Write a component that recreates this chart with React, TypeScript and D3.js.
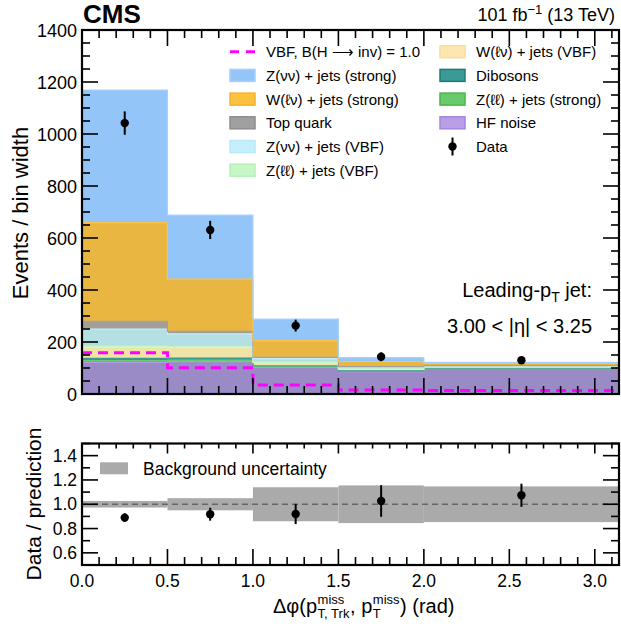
import * as d3 from "d3";

// bin edges (rad) and data (events / bin width)
const edges = [0, 0.5, 1.0, 1.5, 2.0, Math.PI];
const hfNoise = [122, 124, 103, 86, 99];
const zllStrong = [6, 6, 2, 1, 0.5];
const dibosons = [9, 8, 3, 2, 1];
const wlvVBF = [43, 40, 13, 6, 3];
const zllVBF = [3, 3, 1, 1, 0.5];
const zvvVBF = [67, 50, 14, 7, 4];
const topQuark = [29, 10, 5, 2, 1];
const wlvStrong = [380, 201, 64, 19, 9];
const zvvStrong = [510, 246, 83, 16, 4];
const signal = [159, 101, 35, 15, 13];
const dataY = [1042, 631, 263, 143, 130];
const dataErr = [45, 35, 23, 17, 11];
const ratio = [0.89, 0.918, 0.92, 1.027, 1.074];
const ratioErr = [0.036, 0.053, 0.083, 0.13, 0.095];
const bandErr = [0.027, 0.05, 0.14, 0.155, 0.147];

const layers = [
  { key: "hf", label: "HF noise", vals: hfNoise, fill: "#9a8bc7", edge: "#b39cea", sw: "#b99ee8", swEdge: "#a485e0" },
  { key: "zllS", label: "Z(ℓℓ) + jets (strong)", vals: zllStrong, fill: "#5ab85a", edge: "#6cc96c", sw: "#6ac96a", swEdge: "#45b845" },
  { key: "vv", label: "Dibosons", vals: dibosons, fill: "#339890", edge: "#3a9a96", sw: "#3a9a96", swEdge: "#217a75" },
  { key: "wlvV", label: "W(ℓν) + jets (VBF)", vals: wlvVBF, fill: "#efe4a6", edge: "#fde6b0", sw: "#fde6b0", swEdge: "#f8dea0" },
  { key: "zllV", label: "Z(ℓℓ) + jets (VBF)", vals: zllVBF, fill: "#c0ecc0", edge: "#c6f7c6", sw: "#c6f7c6", swEdge: "#b6f0b6" },
  { key: "zvvV", label: "Z(νν) + jets (VBF)", vals: zvvVBF, fill: "#b4e0e4", edge: "#c6effc", sw: "#c6effc", swEdge: "#b9e8f8" },
  { key: "top", label: "Top quark", vals: topQuark, fill: "#a39f98", edge: "#a0a0a0", sw: "#a0a0a0", swEdge: "#8c8c8c" },
  { key: "wlvS", label: "W(ℓν) + jets (strong)", vals: wlvStrong, fill: "#e9b741", edge: "#fcc24a", sw: "#fbc13f", swEdge: "#f5b230" },
  { key: "zvvS", label: "Z(νν) + jets (strong)", vals: zvvStrong, fill: "#94c5f9", edge: "#a6d1ff", sw: "#94c5f9", swEdge: "#a4cfff" },
];

const FONT = "'Liberation Sans', Arial, Helvetica, sans-serif";

let ctx: CanvasRenderingContext2D | null = null;
function tw(s: string, size: number, weight = "normal") {
  if (!ctx) ctx = document.createElement("canvas").getContext("2d");
  if (!ctx) return s.length * size * 0.55;
  ctx.font = `${weight} ${size}px ${FONT}`;
  return ctx.measureText(s).width;
}

const W = 621;
const H = 628;
const left = 82;
const right = 619;
const x = d3.scaleLinear().domain([0, Math.PI]).range([left, right]);
const y = d3.scaleLinear().domain([0, 1400]).range([394, 30]);
const yr = d3.scaleLinear().domain([0.5, 1.5]).range([565, 443.5]);

function stepPts(vals: number[]) {
  const pts: [number, number][] = vals.map((v, i) => [edges[i], v]);
  pts.push([edges[edges.length - 1], vals[vals.length - 1]]);
  return pts;
}

function Ticks({ top, bottom, yScale, yMajor, yMinor, xTopLen }: any) {
  const xMajor = d3.range(0, 3.01, 0.5);
  const xMinor = d3.range(0, 3.15, 0.1).filter((t) => Math.abs(t * 2 - Math.round(t * 2)) > 1e-6);
  const els: any[] = [];
  xMajor.forEach((t, i) => {
    const px = x(t);
    els.push(<line key={"xb" + i} x1={px} x2={px} y1={bottom} y2={bottom - 16} />);
    els.push(<line key={"xt" + i} x1={px} x2={px} y1={top} y2={top + xTopLen[0]} />);
  });
  xMinor.forEach((t, i) => {
    const px = x(t);
    els.push(<line key={"xbm" + i} x1={px} x2={px} y1={bottom} y2={bottom - 8} />);
    els.push(<line key={"xtm" + i} x1={px} x2={px} y1={top} y2={top + xTopLen[1]} />);
  });
  yMajor.forEach((t: number, i: number) => {
    const py = yScale(t);
    els.push(<line key={"yl" + i} x1={left} x2={left + 16} y1={py} y2={py} />);
    els.push(<line key={"yr" + i} x1={right} x2={right - 16} y1={py} y2={py} />);
  });
  yMinor.forEach((t: number, i: number) => {
    const py = yScale(t);
    els.push(<line key={"ylm" + i} x1={left} x2={left + 8} y1={py} y2={py} />);
    els.push(<line key={"yrm" + i} x1={right} x2={right - 8} y1={py} y2={py} />);
  });
  return <g stroke="#000" strokeWidth={1.6}>{els}</g>;
}

export default function App() {
  const stack = d3
    .stack<number>()
    .keys(layers.map((l) => l.key))
    .value((i, key) => layers.find((l) => l.key === key)!.vals[Math.min(i, 4)]);
  const series = stack(d3.range(6));

  const area = d3
    .area<[number, number]>()
    .x((d, i) => x(edges[i]))
    .y0((d) => y(d[0]))
    .y1((d) => y(d[1]))
    .curve(d3.curveStepAfter);
  const topLine = d3
    .line<[number, number]>()
    .x((d, i) => x(edges[i]))
    .y((d) => y(d[1]))
    .curve(d3.curveStepAfter);

  const sigLine = d3
    .line<[number, number]>()
    .x((d) => x(d[0]))
    .y((d) => y(d[1]))
    .curve(d3.curveStepAfter);

  const centers = edges.slice(0, 5).map((e, i) => (e + edges[i + 1]) / 2);

  // legend
  const col1 = ["sig", "zvvS", "wlvS", "top", "zvvV", "zllV"];
  const col2 = ["wlvV", "vv", "zllS", "hf", "data"];
  const rowY = (r: number) => 51.7 + r * 23.7;
  const legendItem = (key: string, lx: number, r: number) => {
    const cy = rowY(r);
    const tx = lx + 36;
    if (key === "sig") {
      return (
        <g key={key}>
          <line x1={lx} x2={lx + 25} y1={cy} y2={cy} stroke="#ff00ff" strokeWidth={3} strokeDasharray="9,7" />
          <text x={tx} y={cy + 5.5} fontSize={15}>
            VBF, B(H ⟶ inv) = 1.0
          </text>
        </g>
      );
    }
    if (key === "data") {
      return (
        <g key={key}>
          <line x1={lx + 12.5} x2={lx + 12.5} y1={cy - 9} y2={cy + 9} stroke="#000" strokeWidth={2} />
          <circle cx={lx + 12.5} cy={cy} r={4.2} fill="#000" />
          <text x={tx} y={cy + 5.5} fontSize={15}>
            Data
          </text>
        </g>
      );
    }
    const l = layers.find((d) => d.key === key)!;
    return (
      <g key={key}>
        <rect x={lx} y={cy - 6} width={25} height={12} fill={l.sw} stroke={l.swEdge} strokeWidth={1.5} />
        <text x={tx} y={cy + 5.5} fontSize={15}>
          {l.label}
        </text>
      </g>
    );
  };

  // x-axis label pieces
  const xl = 20;
  const xs = 13;
  const xlX = 273;
  const xlY = 612.5;
  const p1 = "Δφ(p";
  const w1 = tw(p1, xl);
  const wSubA = Math.max(tw("miss", xs), tw("T, Trk", xs));
  const p2 = ", p";
  const w2 = tw(p2, xl);
  const wSubB = Math.max(tw("miss", xs), tw("T", xs));
  const x2 = xlX + w1 + wSubA + 1;
  const x3 = x2 + w2;
  const x4 = x3 + wSubB + 1;

  return (
    <div style={{ position: "fixed", left: 0, top: 0 }}>
      <svg width={W} height={H} fontFamily={FONT} style={{ display: "block", background: "#fff" }}>
        <rect width={W} height={H} fill="#fff" />
        {/* stacked backgrounds */}
        <g>
          {series.map((s, i) => (
            <path key={"a" + i} d={area(s as any) || ""} fill={layers[i].fill} />
          ))}
          {series.map((s, i) => (
            <path key={"l" + i} d={topLine(s as any) || ""} fill="none" stroke={layers[i].edge} strokeWidth={1.2} />
          ))}
        </g>
        {/* signal */}
        <path
          d={sigLine(stepPts(signal)) || ""}
          fill="none"
          stroke="#ff00ff"
          strokeWidth={3}
          strokeDasharray="10,6"
        />
        {/* data */}
        {centers.map((c, i) => (
          <g key={"d" + i}>
            <line x1={x(c)} x2={x(c)} y1={y(dataY[i] - dataErr[i])} y2={y(dataY[i] + dataErr[i])} stroke="#000" strokeWidth={2} />
            <circle cx={x(c)} cy={y(dataY[i])} r={4.2} fill="#000" />
          </g>
        ))}
        {/* top frame */}
        <Ticks top={30} bottom={394} yScale={y} yMajor={d3.range(0, 1401, 200)} yMinor={d3.range(50, 1400, 50).filter((t) => t % 200 !== 0)} xTopLen={[16, 8]} />
        <rect x={left} y={30} width={right - left} height={364} fill="none" stroke="#000" strokeWidth={2.2} />
        {d3.range(0, 1401, 200).map((t) => (
          <text key={"yt" + t} x={left - 5} y={y(t) + 6.5} fontSize={18} textAnchor="end">
            {t}
          </text>
        ))}
        <text transform={`translate(28,213) rotate(-90)`} fontSize={22} textAnchor="middle">
          Events / bin width
        </text>
        <text x={83} y={23} fontSize={26} fontWeight="bold">
          CMS
        </text>
        <text x={615} y={21} fontSize={18} textAnchor="end">
          101 fb
          <tspan dy={-7} fontSize={13}>
            −1
          </tspan>
          <tspan dy={7}> (13 TeV)</tspan>
        </text>
        {/* legend */}
        <g>{col1.map((k, r) => legendItem(k, 230, r))}</g>
        <g>{col2.map((k, r) => legendItem(k, 440, r))}</g>
        <text x={592} y={297} fontSize={20} textAnchor="end">
          Leading-p
          <tspan dy={5} fontSize={14}>
            T
          </tspan>
          <tspan dy={-5}> jet:</tspan>
        </text>
        <text x={592} y={332.5} fontSize={20} textAnchor="end">
          3.00 &lt; |η| &lt; 3.25
        </text>

        {/* ratio panel */}
        {centers.map((c, i) => (
          <rect
            key={"b" + i}
            x={x(edges[i])}
            width={x(edges[i + 1]) - x(edges[i])}
            y={yr(1 + bandErr[i])}
            height={yr(1 - bandErr[i]) - yr(1 + bandErr[i])}
            fill="#aaaaaa"
          />
        ))}
        <line x1={left} x2={right} y1={yr(1)} y2={yr(1)} stroke="#666" strokeWidth={1.6} strokeDasharray="6,4" />
        {centers.map((c, i) => (
          <g key={"r" + i}>
            <line x1={x(c)} x2={x(c)} y1={yr(ratio[i] - ratioErr[i])} y2={yr(ratio[i] + ratioErr[i])} stroke="#000" strokeWidth={2} />
            <circle cx={x(c)} cy={yr(ratio[i])} r={4.2} fill="#000" />
          </g>
        ))}
        <rect x={100} y={462.3} width={28} height={12} fill="#aaaaaa" />
        <text x={143} y={475} fontSize={17.5}>
          Background uncertainty
        </text>
        <Ticks top={443.5} bottom={565} yScale={yr} yMajor={[0.6, 0.8, 1.0, 1.2, 1.4]} yMinor={[0.5, 0.7, 0.9, 1.1, 1.3, 1.5]} xTopLen={[10, 5]} />
        <rect x={left} y={443.5} width={right - left} height={121.5} fill="none" stroke="#000" strokeWidth={2.2} />
        {[0.6, 0.8, 1.0, 1.2, 1.4].map((t) => (
          <text key={"rt" + t} x={left - 5} y={yr(t) + 6} fontSize={17.5} textAnchor="end">
            {t.toFixed(1)}
          </text>
        ))}
        {d3.range(0, 3.01, 0.5).map((t) => (
          <text key={"xt" + t} x={x(t)} y={587} fontSize={17.5} textAnchor="middle">
            {t.toFixed(1)}
          </text>
        ))}
        <text transform={`translate(41,504) rotate(-90)`} fontSize={21} textAnchor="middle">
          Data / prediction
        </text>
        {/* x label */}
        <g fontSize={xl}>
          <text x={xlX} y={xlY}>{p1}</text>
          <text x={xlX + w1 + 0.5} y={xlY - 8.5} fontSize={xs}>miss</text>
          <text x={xlX + w1 + 0.5} y={xlY + 5} fontSize={xs}>T, Trk</text>
          <text x={x2} y={xlY}>{p2}</text>
          <text x={x3 + 0.5} y={xlY - 8.5} fontSize={xs}>miss</text>
          <text x={x3 + 0.5} y={xlY + 5} fontSize={xs}>T</text>
          <text x={x4} y={xlY}>) (rad)</text>
        </g>
      </svg>
    </div>
  );
}
